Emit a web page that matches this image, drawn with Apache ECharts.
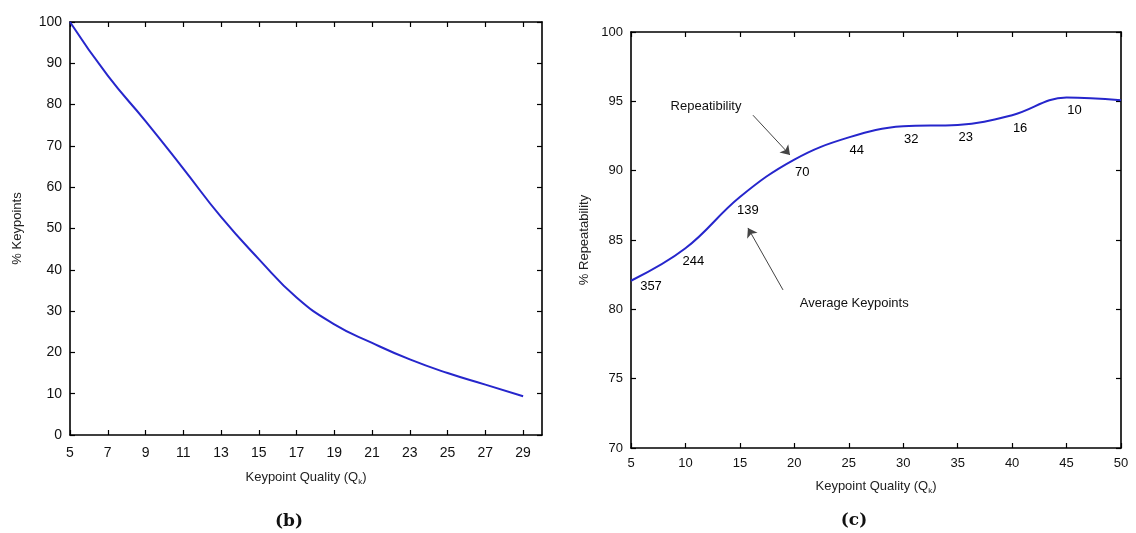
<!DOCTYPE html>
<html>
<head>
<meta charset="utf-8">
<script src="https://cdn.jsdelivr.net/npm/echarts@6/dist/echarts.min.js"></script>
<style>
html,body{margin:0;padding:0;background:#fff;}
#chart{width:1136px;height:533px;}
</style>
</head>
<body>
<div id="chart"></div>
<script>
// ---- data: panel (b) ----
const qualityB = [5, 7, 9, 11, 13, 15, 17, 19, 21, 23, 25, 27, 29];
const keypointsPct = [100, 87.0, 76.0, 64.5, 52.8, 42.6, 33.3, 26.8, 22.3, 18.3, 15.0, 12.2, 9.4];
const xTicksB = [5, 7, 9, 11, 13, 15, 17, 19, 21, 23, 25, 27, 29];

// ---- data: panel (c) ----
const qualityC = [5, 10, 15, 20, 25, 30, 35, 40, 45, 50];
const repeatability = [82.06, 84.4, 88.1, 90.8, 92.4, 93.2, 93.3, 94.0, 95.27, 95.07];
const avgKeypoints = [357, 244, 139, 70, 44, 32, 23, 16, 10, null];

// annotation texts and arrows (data coordinates of panel c)
const annotationTexts = [
  { text: 'Repeatibility', at: [11.89, 94.66] },
  { text: 'Average Keypoints', at: [25.5, 80.46] }
];
const annotationArrows = [
  { from: [16.2, 94.0], to: [19.6, 91.13] },
  { from: [18.96, 81.4], to: [15.74, 85.87] }
];

const FONT = 'Liberation Sans, Arial, sans-serif';
const lineColor = '#2626cc';

function boxAxis(extra) {
  return Object.assign({
    type: 'value',
    axisLine: { show: true, onZero: false, lineStyle: { color: '#000', width: 1.6 } },
    axisTick: { show: true, inside: true, length: 5, lineStyle: { color: '#000', width: 1.2 } },
    axisLabel: { show: true, color: '#111', fontSize: 13, fontFamily: FONT, margin: 9 },
    splitLine: { show: false }
  }, extra);
}
const nameStyle = {
  color: '#222', fontSize: 13, fontFamily: FONT,
  rich: { sub: { fontSize: 8, fontFamily: FONT, color: '#222', padding: [9, 0, 0, 0] } }
};
const captionStyle = { fontFamily: 'DejaVu Serif, Liberation Serif, serif', fontWeight: 'bold', fontSize: 17, color: '#111' };

const chart = echarts.init(document.getElementById('chart'), null, { renderer: 'canvas' });

const option = {
  animation: false,
  backgroundColor: '#fff',
  title: [
    { text: '(b)', left: 284, top: 508, textAlign: 'center', textStyle: captionStyle },
    { text: '(c)', left: 849, top: 507, textAlign: 'center', textStyle: captionStyle }
  ],
  grid: [
    { left: 70, right: 594, top: 22, bottom: 98 },
    { left: 631, right: 15, top: 32, bottom: 85 }
  ],
  xAxis: [
    boxAxis({ gridIndex: 0, position: 'bottom', min: 5, max: 30,
      axisTick: { show: true, inside: true, length: 5, customValues: xTicksB, lineStyle: { color: '#000', width: 1.2 } },
      axisLabel: { show: true, customValues: xTicksB, color: '#111', fontSize: 14, fontFamily: FONT, margin: 11 },
      name: 'Keypoint Quality (Q{sub|k})', nameLocation: 'middle', nameGap: 34, nameTextStyle: nameStyle }),
    boxAxis({ gridIndex: 0, position: 'top', min: 5, max: 30,
      axisTick: { show: true, inside: true, length: 5, customValues: xTicksB, lineStyle: { color: '#000', width: 1.2 } },
      axisLabel: { show: false } }),
    boxAxis({ gridIndex: 1, position: 'bottom', min: 5, max: 50, interval: 5,
      name: 'Keypoint Quality (Q{sub|k})', nameLocation: 'middle', nameGap: 30, nameTextStyle: nameStyle }),
    boxAxis({ gridIndex: 1, position: 'top', min: 5, max: 50, interval: 5, axisLabel: { show: false } })
  ],
  yAxis: [
    boxAxis({ gridIndex: 0, position: 'left', min: 0, max: 100, interval: 10,
      axisLabel: { show: true, color: '#111', fontSize: 14, fontFamily: FONT, margin: 8 },
      name: '% Keypoints', nameLocation: 'middle', nameGap: 46, nameTextStyle: nameStyle }),
    boxAxis({ gridIndex: 0, position: 'right', min: 0, max: 100, interval: 10, axisLabel: { show: false } }),
    boxAxis({ gridIndex: 1, position: 'left', min: 70, max: 100, interval: 5,
      axisLabel: { show: true, color: '#111', fontSize: 13, fontFamily: FONT, margin: 8 },
      name: '% Repeatability', nameLocation: 'middle', nameGap: 40, nameTextStyle: nameStyle }),
    boxAxis({ gridIndex: 1, position: 'right', min: 70, max: 100, interval: 5, axisLabel: { show: false } })
  ],
  series: [
    {
      type: 'line', xAxisIndex: 0, yAxisIndex: 0,
      data: qualityB.map((q, i) => [q, keypointsPct[i]]),
      smooth: 0.5, showSymbol: false, symbol: 'none',
      lineStyle: { color: lineColor, width: 2 }
    },
    {
      type: 'line', xAxisIndex: 2, yAxisIndex: 2,
      data: qualityC.map((q, i) => [q, repeatability[i]]),
      smooth: 0.4, showSymbol: false, symbol: 'none',
      lineStyle: { color: lineColor, width: 2 }
    },
    {
      type: 'scatter', xAxisIndex: 2, yAxisIndex: 2,
      symbol: 'circle', symbolSize: 1, silent: true,
      itemStyle: { color: 'rgba(0,0,0,0)' },
      data: qualityC.map((q, i) => ({
        value: [q, repeatability[i]],
        label: { show: avgKeypoints[i] != null, offset: i === 0 ? [20, 6] : [8, 13] }
      })),
      label: {
        show: true, position: 'inside', color: '#000', opacity: 1, fontSize: 13, fontFamily: FONT,
        formatter: p => avgKeypoints[p.dataIndex] == null ? '' : String(avgKeypoints[p.dataIndex])
      },
      markLine: {
        silent: true, symbol: ['none', 'arrow'], symbolSize: 9,
        lineStyle: { color: '#444', type: 'solid', width: 1, opacity: 1 },
        label: { show: false },
        data: annotationArrows.map(a => [{ coord: a.from }, { coord: a.to }])
      },
      markPoint: {
        silent: true, symbol: 'rect', symbolSize: 1,
        itemStyle: { color: 'rgba(0,0,0,0)' },
        label: { show: true, position: 'inside', color: '#111', fontSize: 13, fontFamily: FONT,
          formatter: p => p.name },
        data: annotationTexts.map(a => ({ name: a.text, coord: a.at }))
      }
    }
  ]
};
chart.setOption(option);
</script>
</body>
</html>
